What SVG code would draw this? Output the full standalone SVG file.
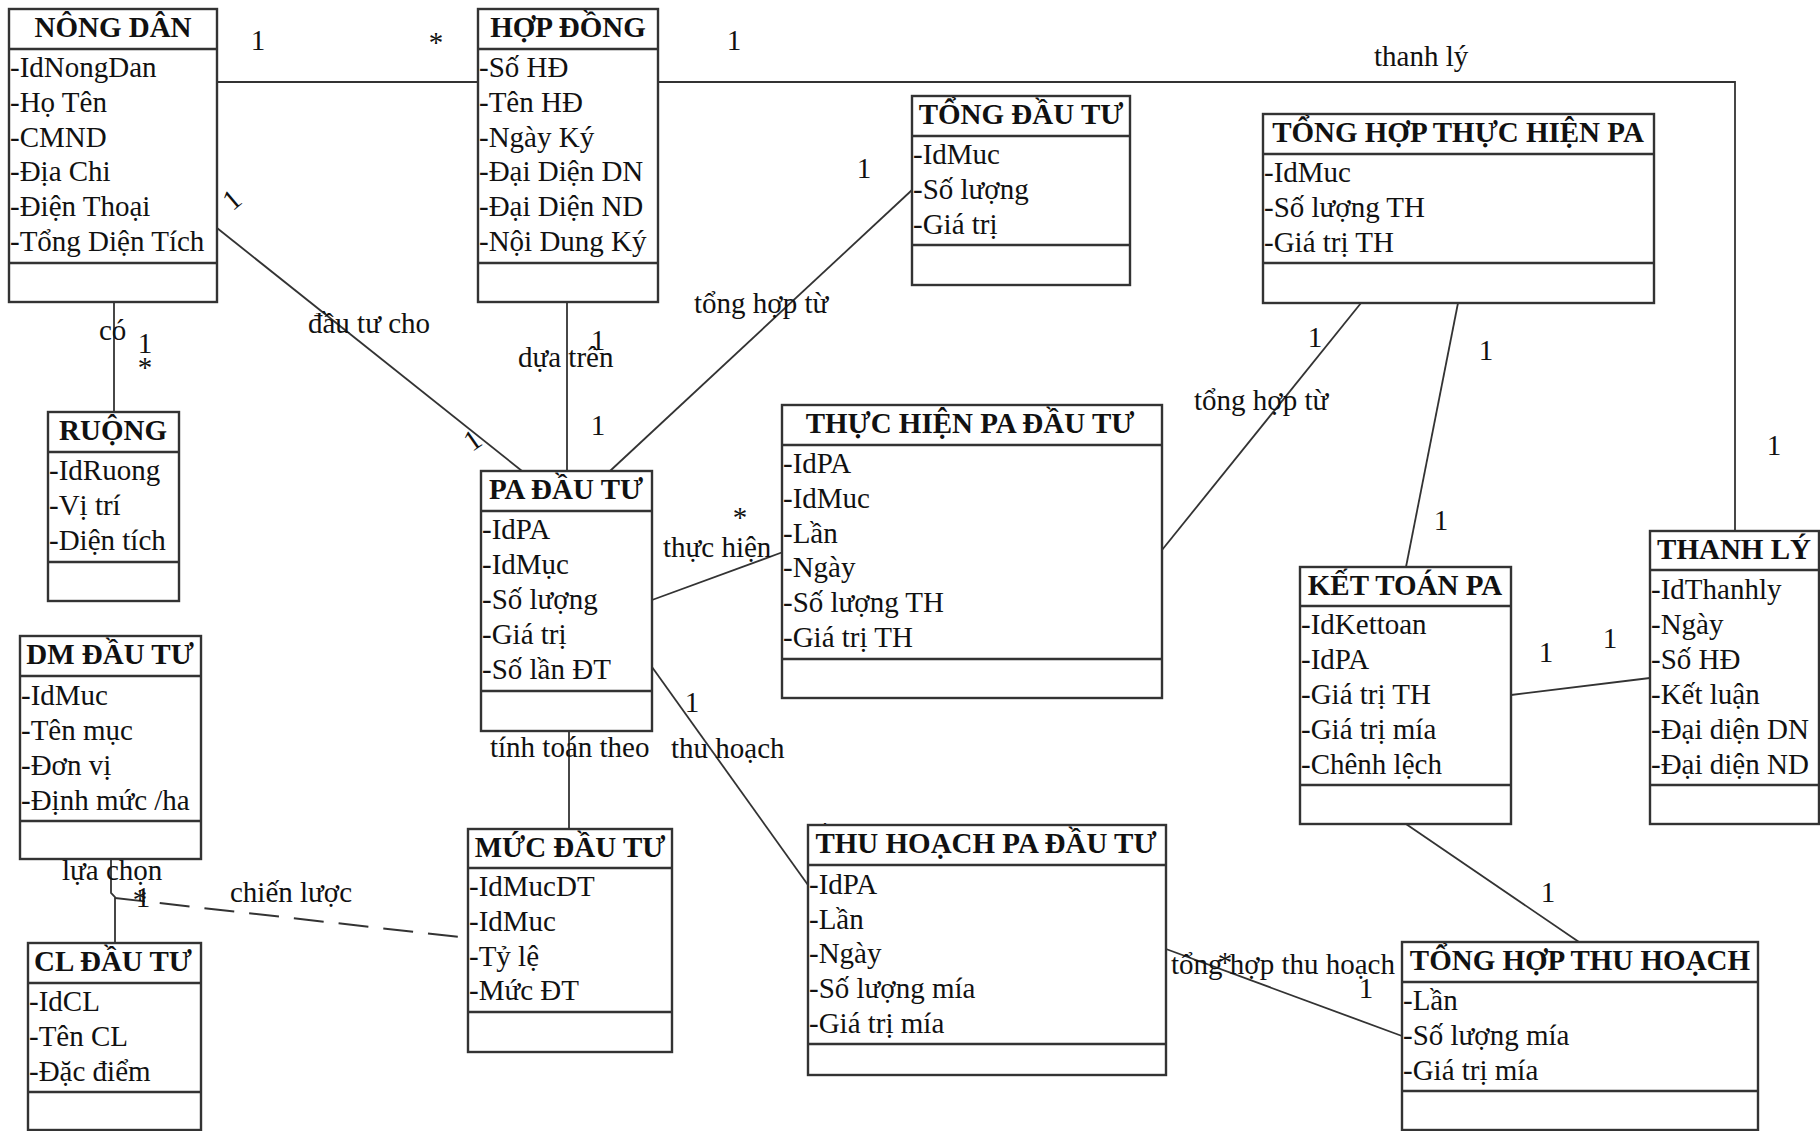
<svg xmlns="http://www.w3.org/2000/svg" width="1820" height="1131" viewBox="0 0 1820 1131">
  <style>
    text { font-family: "Liberation Serif", "Times New Roman", serif; font-size: 29px; fill: #111; }
    .title { font-weight: bold; text-anchor: middle; }
    .m { text-anchor: middle; }
    .box { fill: #fff; stroke: #333; stroke-width: 2.4; }
    .sep { stroke: #333; stroke-width: 2.4; }
    .link { fill: none; stroke: #333; stroke-width: 1.8; }
    .dash { fill: none; stroke: #333; stroke-width: 2; stroke-dasharray: 30 15; }
  </style>
  <rect width="1820" height="1131" fill="#fff"/>

  <!-- associations -->
  <g id="connectors">
    <line class="link" x1="217" y1="82" x2="478" y2="82"/>
    <polyline class="link" points="658,82 1735,82 1735,531"/>
    <line class="link" x1="114" y1="302" x2="114" y2="412"/>
    <line class="link" x1="217" y1="228" x2="522" y2="471"/>
    <line class="link" x1="567" y1="302" x2="567" y2="471"/>
    <line class="link" x1="610" y1="471" x2="912" y2="190"/>
    <line class="link" x1="652" y1="600" x2="783" y2="552"/>
    <line class="link" x1="1162" y1="550" x2="1361" y2="303"/>
    <line class="link" x1="1458" y1="303" x2="1406" y2="567"/>
    <line class="link" x1="1511" y1="695" x2="1650" y2="678"/>
    <line class="link" x1="1406" y1="824" x2="1579" y2="942"/>
    <line class="link" x1="1166" y1="949" x2="1402" y2="1036"/>
    <line class="link" x1="652" y1="667" x2="808" y2="885"/>
    <line class="link" x1="569" y1="731" x2="569" y2="829"/>
    <polyline class="link" points="111,859 111,893 115,897 115,943"/>
    <line class="dash" x1="115" y1="898" x2="468" y2="938"/>

    <!-- association names -->
    <text x="1374" y="66">thanh lý</text>
    <text x="99" y="340">có</text>
    <text x="308" y="333">đầu tư cho</text>
    <text x="518" y="367">dựa trên</text>
    <text x="694" y="313">tổng hợp từ</text>
    <text x="663" y="557">thực hiện</text>
    <text x="1194" y="410">tổng hợp từ</text>
    <text x="671" y="758">thu hoạch</text>
    <text x="490" y="757">tính toán theo</text>
    <text x="1171" y="974">tổng hợp thu hoạch</text>
    <text x="62" y="880">lựa chọn</text>
    <text x="230" y="902">chiến lược</text>

    <!-- multiplicities -->
    <text class="m" x="258" y="50">1</text>
    <text class="m" x="436" y="52">*</text>
    <text class="m" x="734" y="50">1</text>
    <text class="m" x="1774" y="455">1</text>
    <text class="m" x="145" y="353">1</text>
    <text class="m" x="145" y="377">*</text>
    <text class="m" transform="translate(238,207) rotate(-40)">1</text>
    <text class="m" transform="translate(478,448) rotate(-35)">1</text>
    <text class="m" x="598" y="350">1</text>
    <text class="m" x="598" y="435">1</text>
    <text class="m" x="864" y="178">1</text>
    <text class="m" x="638" y="500">*</text>
    <text class="m" x="740" y="527">*</text>
    <text class="m" x="1144" y="509">*</text>
    <text class="m" x="1315" y="347">1</text>
    <text class="m" x="1486" y="360">1</text>
    <text class="m" x="1441" y="530">1</text>
    <text class="m" x="1546" y="662">1</text>
    <text class="m" x="1610" y="648">1</text>
    <text class="m" x="1446" y="807">1</text>
    <text class="m" x="1548" y="902">1</text>
    <text class="m" x="1225" y="972">*</text>
    <text class="m" x="1366" y="998">1</text>
    <text class="m" x="692" y="712">1</text>
    <text class="m" x="825" y="842">*</text>
    <text class="m" x="143" y="907">1</text>
    <text class="m" x="140" y="909">*</text>
  </g>

  <!-- classes -->
  <g id="nong-dan">
    <rect class="box" x="9" y="9" width="208" height="293"/>
    <line class="sep" x1="9" y1="49" x2="217" y2="49"/>
    <line class="sep" x1="9" y1="263" x2="217" y2="263"/>
    <text class="title" x="113" y="37">NÔNG DÂN</text>
    <text x="10" y="77">-IdNongDan</text>
    <text x="10" y="112">-Họ Tên</text>
    <text x="10" y="147">-CMND</text>
    <text x="10" y="181">-Địa Chi</text>
    <text x="10" y="216">-Điện Thoại</text>
    <text x="10" y="251">-Tổng Diện Tích</text>
  </g>

  <g id="hop-dong">
    <rect class="box" x="478" y="9" width="180" height="293"/>
    <line class="sep" x1="478" y1="49" x2="658" y2="49"/>
    <line class="sep" x1="478" y1="263" x2="658" y2="263"/>
    <text class="title" x="568" y="37">HỢP ĐỒNG</text>
    <text x="479" y="77">-Số HĐ</text>
    <text x="479" y="112">-Tên HĐ</text>
    <text x="479" y="147">-Ngày Ký</text>
    <text x="479" y="181">-Đại Diện DN</text>
    <text x="479" y="216">-Đại Diện ND</text>
    <text x="479" y="251">-Nội Dung Ký</text>
  </g>

  <g id="tong-dau-tu">
    <rect class="box" x="912" y="96" width="218" height="189"/>
    <line class="sep" x1="912" y1="136" x2="1130" y2="136"/>
    <line class="sep" x1="912" y1="245" x2="1130" y2="245"/>
    <text class="title" x="1021" y="124">TỔNG ĐẦU TƯ</text>
    <text x="913" y="164">-IdMuc</text>
    <text x="913" y="199">-Số lượng</text>
    <text x="913" y="234">-Giá trị</text>
  </g>

  <g id="tong-hop-thuc-hien-pa">
    <rect class="box" x="1263" y="114" width="391" height="189"/>
    <line class="sep" x1="1263" y1="154" x2="1654" y2="154"/>
    <line class="sep" x1="1263" y1="263" x2="1654" y2="263"/>
    <text class="title" x="1458" y="142">TỔNG HỢP THỰC HIỆN PA</text>
    <text x="1264" y="182">-IdMuc</text>
    <text x="1264" y="217">-Số lượng TH</text>
    <text x="1264" y="252">-Giá trị TH</text>
  </g>

  <g id="ruong">
    <rect class="box" x="48" y="412" width="131" height="189"/>
    <line class="sep" x1="48" y1="452" x2="179" y2="452"/>
    <line class="sep" x1="48" y1="562" x2="179" y2="562"/>
    <text class="title" x="113" y="440">RUỘNG</text>
    <text x="49" y="480">-IdRuong</text>
    <text x="49" y="515">-Vị trí</text>
    <text x="49" y="550">-Diện tích</text>
  </g>

  <g id="pa-dau-tu">
    <rect class="box" x="481" y="471" width="171" height="260"/>
    <line class="sep" x1="481" y1="511" x2="652" y2="511"/>
    <line class="sep" x1="481" y1="691" x2="652" y2="691"/>
    <text class="title" x="566" y="499">PA ĐẦU TƯ</text>
    <text x="482" y="539">-IdPA</text>
    <text x="482" y="574">-IdMục</text>
    <text x="482" y="609">-Số lượng</text>
    <text x="482" y="644">-Giá trị</text>
    <text x="482" y="679">-Số lần ĐT</text>
  </g>

  <g id="thuc-hien-pa-dau-tu">
    <rect class="box" x="782" y="405" width="380" height="293"/>
    <line class="sep" x1="782" y1="445" x2="1162" y2="445"/>
    <line class="sep" x1="782" y1="659" x2="1162" y2="659"/>
    <text class="title" x="970" y="433">THỰC HIỆN PA ĐẦU TƯ</text>
    <text x="783" y="473">-IdPA</text>
    <text x="783" y="508">-IdMuc</text>
    <text x="783" y="543">-Lần</text>
    <text x="783" y="577">-Ngày</text>
    <text x="783" y="612">-Số lượng TH</text>
    <text x="783" y="647">-Giá trị TH</text>
  </g>

  <g id="dm-dau-tu">
    <rect class="box" x="20" y="636" width="181" height="223"/>
    <line class="sep" x1="20" y1="676" x2="201" y2="676"/>
    <line class="sep" x1="20" y1="821" x2="201" y2="821"/>
    <text class="title" x="110" y="664">DM ĐẦU TƯ</text>
    <text x="21" y="705">-IdMuc</text>
    <text x="21" y="740">-Tên mục</text>
    <text x="21" y="775">-Đơn vị</text>
    <text x="21" y="810">-Định mức /ha</text>
  </g>

  <g id="cl-dau-tu">
    <rect class="box" x="28" y="943" width="173" height="187"/>
    <line class="sep" x1="28" y1="983" x2="201" y2="983"/>
    <line class="sep" x1="28" y1="1092" x2="201" y2="1092"/>
    <text class="title" x="113" y="971">CL ĐẦU TƯ</text>
    <text x="29" y="1011">-IdCL</text>
    <text x="29" y="1046">-Tên CL</text>
    <text x="29" y="1081">-Đặc điểm</text>
  </g>

  <g id="muc-dau-tu">
    <rect class="box" x="468" y="829" width="204" height="223"/>
    <line class="sep" x1="468" y1="868" x2="672" y2="868"/>
    <line class="sep" x1="468" y1="1012" x2="672" y2="1012"/>
    <text class="title" x="570" y="857">MỨC ĐẦU TƯ</text>
    <text x="469" y="896">-IdMucDT</text>
    <text x="469" y="931">-IdMuc</text>
    <text x="469" y="966">-Tỷ lệ</text>
    <text x="469" y="1000">-Mức ĐT</text>
  </g>

  <g id="thu-hoach-pa-dau-tu">
    <rect class="box" x="808" y="825" width="358" height="250"/>
    <line class="sep" x1="808" y1="865" x2="1166" y2="865"/>
    <line class="sep" x1="808" y1="1044" x2="1166" y2="1044"/>
    <text class="title" x="986" y="853">THU HOẠCH PA ĐẦU TƯ</text>
    <text x="809" y="894">-IdPA</text>
    <text x="809" y="929">-Lần</text>
    <text x="809" y="963">-Ngày</text>
    <text x="809" y="998">-Số lượng mía</text>
    <text x="809" y="1033">-Giá trị mía</text>
  </g>

  <g id="tong-hop-thu-hoach">
    <rect class="box" x="1402" y="942" width="356" height="188"/>
    <line class="sep" x1="1402" y1="982" x2="1758" y2="982"/>
    <line class="sep" x1="1402" y1="1091" x2="1758" y2="1091"/>
    <text class="title" x="1580" y="970">TỔNG HỢP THU HOẠCH</text>
    <text x="1403" y="1010">-Lần</text>
    <text x="1403" y="1045">-Số lượng mía</text>
    <text x="1403" y="1080">-Giá trị mía</text>
  </g>

  <g id="ket-toan-pa">
    <rect class="box" x="1300" y="567" width="211" height="257"/>
    <line class="sep" x1="1300" y1="606" x2="1511" y2="606"/>
    <line class="sep" x1="1300" y1="785" x2="1511" y2="785"/>
    <text class="title" x="1405" y="595">KẾT TOÁN PA</text>
    <text x="1301" y="634">-IdKettoan</text>
    <text x="1301" y="669">-IdPA</text>
    <text x="1301" y="704">-Giá trị TH</text>
    <text x="1301" y="739">-Giá trị mía</text>
    <text x="1301" y="774">-Chênh lệch</text>
  </g>

  <g id="thanh-ly">
    <rect class="box" x="1650" y="531" width="169" height="293"/>
    <line class="sep" x1="1650" y1="570" x2="1819" y2="570"/>
    <line class="sep" x1="1650" y1="785" x2="1819" y2="785"/>
    <text class="title" x="1734" y="559">THANH LÝ</text>
    <text x="1651" y="599">-IdThanhly</text>
    <text x="1651" y="634">-Ngày</text>
    <text x="1651" y="669">-Số HĐ</text>
    <text x="1651" y="704">-Kết luận</text>
    <text x="1651" y="739">-Đại diện DN</text>
    <text x="1651" y="774">-Đại diện ND</text>
  </g>
</svg>
